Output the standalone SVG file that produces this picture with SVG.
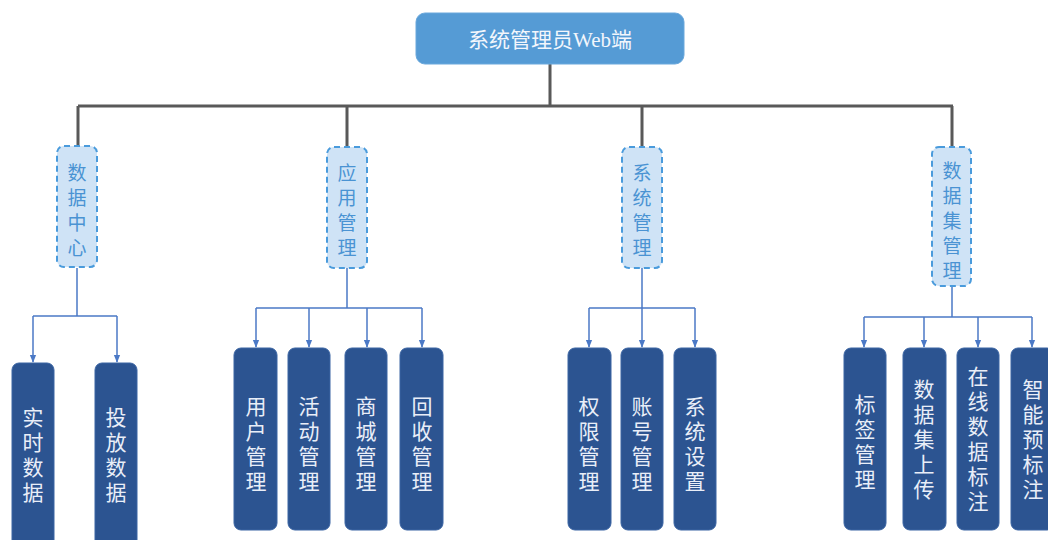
<svg xmlns="http://www.w3.org/2000/svg" width="1048" height="540" viewBox="0 0 1048 540">
<defs>
<style>
.root{fill:#559bd5;stroke:#6aa8dc;stroke-width:1}
.roott{fill:#f2f6fc;font-family:"Liberation Serif","Noto Sans CJK SC",serif;font-size:21px;text-anchor:middle}
.mid{fill:#cfe3f6;stroke:#4a9bdc;stroke-width:2;stroke-dasharray:6 4}
.midt{fill:#4a93d3;font-family:"Noto Sans CJK SC",sans-serif;font-size:19px;text-anchor:middle;writing-mode:vertical-rl;letter-spacing:6px}
.leaf{fill:#2c5491;stroke:#3a64a3;stroke-width:1}
.leaft{fill:#e9eef8;font-family:"Noto Sans CJK SC",sans-serif;font-size:21px;text-anchor:middle;writing-mode:vertical-rl;letter-spacing:4px}
.trunk{fill:none;stroke:#595959;stroke-width:3}
.br{fill:none;stroke:#4b79c6;stroke-width:1.5}
</style>
<marker id="arr" viewBox="0 0 10 10" refX="9" refY="5" markerWidth="8" markerHeight="8" orient="auto" markerUnits="userSpaceOnUse">
<path d="M0,1 L10,5 L0,9 Z" fill="#4b79c6"/>
</marker>
</defs>
<g id="connectors">
<path class="trunk" d="M550,64 V106 M78,106 H953 M78,106 V147 M347,106 V147 M642,106 V147 M952,106 V147"/>
<path class="br" d="M77,268 V316 M33,316 H117"/>
<path class="br" d="M33,316 V362" marker-end="url(#arr)"/>
<path class="br" d="M117,316 V362" marker-end="url(#arr)"/>
<path class="br" d="M347,268 V308 M256,308 H422"/>
<path class="br" d="M256,308 V347" marker-end="url(#arr)"/>
<path class="br" d="M309,308 V347" marker-end="url(#arr)"/>
<path class="br" d="M367,308 V347" marker-end="url(#arr)"/>
<path class="br" d="M422,308 V347" marker-end="url(#arr)"/>
<path class="br" d="M642,268 V308 M589,308 H695"/>
<path class="br" d="M589,308 V347" marker-end="url(#arr)"/>
<path class="br" d="M642,308 V347" marker-end="url(#arr)"/>
<path class="br" d="M695,308 V347" marker-end="url(#arr)"/>
<path class="br" d="M952,286 V317 M864,317 H1032"/>
<path class="br" d="M864,317 V347" marker-end="url(#arr)"/>
<path class="br" d="M924,317 V347" marker-end="url(#arr)"/>
<path class="br" d="M978,317 V347" marker-end="url(#arr)"/>
<path class="br" d="M1032,317 V347" marker-end="url(#arr)"/>
</g>
<g id="root">
<rect class="root" x="416" y="13" width="268" height="51" rx="9"/>
<text class="roott" x="550" y="47">系统管理员Web端</text>
</g>
<g id="n-data-center">
<rect class="mid" x="57" y="146" width="40" height="121" rx="7"/>
<text class="midt" x="77" y="213">数据中心</text>
</g>
<g id="n-app">
<rect class="mid" x="327" y="147" width="40" height="121" rx="7"/>
<text class="midt" x="347" y="213">应用管理</text>
</g>
<g id="n-sys">
<rect class="mid" x="622" y="147" width="40" height="121" rx="7"/>
<text class="midt" x="642" y="213">系统管理</text>
</g>
<g id="n-dataset">
<rect class="mid" x="932" y="147" width="39" height="139" rx="7"/>
<text class="midt" x="952" y="224">数据集管理</text>
</g>
<g id="l-realtime">
<rect class="leaf" x="12" y="363" width="42" height="190" rx="7"/>
<text class="leaft" x="33" y="457">实时数据</text>
</g>
<g id="l-delivery">
<rect class="leaf" x="95" y="363" width="42" height="190" rx="7"/>
<text class="leaft" x="116" y="457">投放数据</text>
</g>
<g id="l-user">
<rect class="leaf" x="234" y="348" width="43" height="182" rx="7"/>
<text class="leaft" x="256" y="446">用户管理</text>
</g>
<g id="l-activity">
<rect class="leaf" x="288" y="348" width="42" height="182" rx="7"/>
<text class="leaft" x="309" y="446">活动管理</text>
</g>
<g id="l-mall">
<rect class="leaf" x="345" y="348" width="42" height="182" rx="7"/>
<text class="leaft" x="366" y="446">商城管理</text>
</g>
<g id="l-recycle">
<rect class="leaf" x="400" y="348" width="43" height="182" rx="7"/>
<text class="leaft" x="422" y="446">回收管理</text>
</g>
<g id="l-perm">
<rect class="leaf" x="568" y="348" width="43" height="182" rx="7"/>
<text class="leaft" x="589" y="446">权限管理</text>
</g>
<g id="l-account">
<rect class="leaf" x="621" y="348" width="42" height="182" rx="7"/>
<text class="leaft" x="642" y="446">账号管理</text>
</g>
<g id="l-settings">
<rect class="leaf" x="674" y="348" width="42" height="182" rx="7"/>
<text class="leaft" x="695" y="446">系统设置</text>
</g>
<g id="l-tag">
<rect class="leaf" x="844" y="348" width="42" height="182" rx="7"/>
<text class="leaft" x="865" y="444">标签管理</text>
</g>
<g id="l-upload">
<rect class="leaf" x="903" y="348" width="43" height="182" rx="7"/>
<text class="leaft" x="924" y="441">数据集上传</text>
</g>
<g id="l-annotate">
<rect class="leaf" x="957" y="348" width="42" height="182" rx="7"/>
<text class="leaft" x="978" y="441">在线数据标注</text>
</g>
<g id="l-preannotate">
<rect class="leaf" x="1011" y="348" width="43" height="182" rx="7"/>
<text class="leaft" x="1033" y="441">智能预标注</text>
</g>
</svg>
